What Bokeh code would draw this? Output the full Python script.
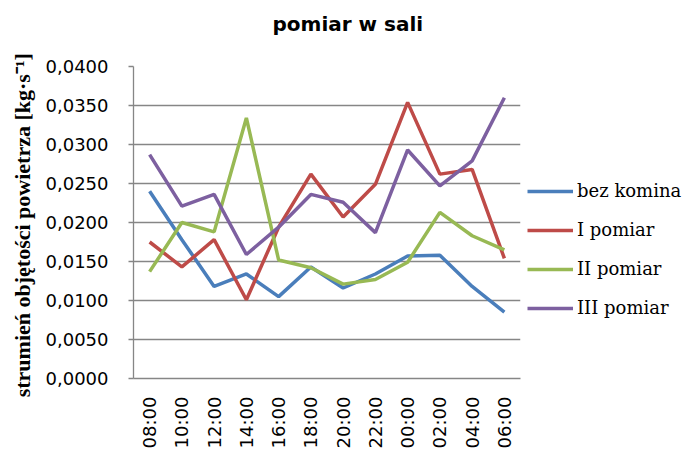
from bokeh.plotting import figure
from bokeh.models import (FactorRange, Range1d, FixedTicker, CustomJSTickFormatter,
                          Legend, LegendItem, Title)
from bokeh.layouts import row
from bokeh.embed import file_html
from bokeh.resources import INLINE
import math

hours = ["08:00", "10:00", "12:00", "14:00", "16:00", "18:00", "20:00", "22:00",
         "00:00", "02:00", "04:00", "06:00"]
bez_komina = [0.0240, 0.0178, 0.0118, 0.0134, 0.0105, 0.0143, 0.0116, 0.0134,
              0.0157, 0.0158, 0.0118, 0.0085]
i_pomiar = [0.0175, 0.0143, 0.0178, 0.0101, 0.0194, 0.0262, 0.0207, 0.0249,
            0.0354, 0.0262, 0.0268, 0.0154]
ii_pomiar = [0.0137, 0.0200, 0.0188, 0.0334, 0.0152, 0.0142, 0.0121, 0.0127,
             0.0149, 0.0213, 0.0183, 0.0165]
iii_pomiar = [0.0287, 0.0221, 0.0236, 0.0159, 0.0194, 0.0236, 0.0226, 0.0187,
              0.0293, 0.0247, 0.0279, 0.0360]
series_names = ["bez komina", "I pomiar", "II pomiar", "III pomiar"]
colors = ["#4a7ebb", "#be4b48", "#98b954", "#7d60a0"]
y_ticks = [0.0, 0.005, 0.010, 0.015, 0.020, 0.025, 0.030, 0.035, 0.040]

H = 451
p = figure(width=522, height=H, x_range=FactorRange(*hours, range_padding=0),
           y_range=Range1d(0, 0.04), output_backend="svg", toolbar_location=None,
           min_border_left=133, min_border_right=2, min_border_top=66,
           min_border_bottom=70)
# trailing empty line lifts the title towards the top edge
p.title = Title(text="pomiar w sali\n", align="left", vertical_align="bottom",
                text_font="DejaVu Sans", text_font_size="20px", text_font_style="bold",
                text_color="#000000", offset=139, standoff=14)

p.outline_line_color = None
p.background_fill_color = "white"
p.border_fill_color = "white"

p.xgrid.grid_line_color = None
p.ygrid.grid_line_color = "#868686"
p.ygrid.grid_line_width = 1.3

p.yaxis.ticker = FixedTicker(ticks=y_ticks)
p.yaxis.formatter = CustomJSTickFormatter(code="return tick.toFixed(4).replace('.', ',');")
p.yaxis.axis_line_color = "#868686"
p.yaxis.axis_line_width = 1.3
p.yaxis.major_tick_line_color = "#868686"
p.yaxis.major_tick_line_width = 1.3
p.yaxis.major_tick_out = 5
p.yaxis.major_tick_in = 0
p.yaxis.minor_tick_line_color = None
p.yaxis.major_label_text_font = "DejaVu Sans"
p.yaxis.major_label_text_font_size = "18px"
p.yaxis.major_label_text_color = "#000000"
p.yaxis.major_label_standoff = 20
p.yaxis.axis_label = "strumień objętości powietrza  [kg·s⁻¹]"
p.yaxis.axis_label_text_font = "Liberation Serif"
p.yaxis.axis_label_text_font_style = "bold"
p.yaxis.axis_label_text_font_size = "22px"
p.yaxis.axis_label_text_color = "#000000"
p.yaxis.axis_label_standoff = 8

p.xaxis.axis_line_color = "#868686"
p.xaxis.axis_line_width = 1.3
p.xaxis.major_tick_line_color = None
p.xaxis.minor_tick_line_color = None
p.xaxis.major_label_orientation = math.pi / 2
p.xaxis.major_label_text_font = "DejaVu Sans"
p.xaxis.major_label_text_font_size = "18px"
p.xaxis.major_label_text_color = "#000000"
p.xaxis.major_label_standoff = 12

for name, vals, c in zip(series_names, [bez_komina, i_pomiar, ii_pomiar, iii_pomiar], colors):
    p.line(hours, vals, line_color=c, line_width=3.5)

# legend panel to the right of the plot area (frames are aligned by the row)
q = figure(width=164, height=H, x_range=Range1d(0, 1), y_range=Range1d(0, 1),
           output_backend="svg", toolbar_location=None, x_axis_location=None,
           y_axis_location=None, min_border=0, outline_line_color=None)
q.grid.grid_line_color = None
items = []
for name, c in zip(series_names, colors):
    r = q.line(x=[2, 3], y=[2, 2], line_color=c, line_width=3.5)
    items.append(LegendItem(label=name, renderers=[r]))
legend = Legend(items=items, location=(5, 60), border_line_color=None,
                background_fill_alpha=0, padding=0, margin=0, spacing=18,
                glyph_width=46, glyph_height=20, label_height=20, label_standoff=4,
                label_text_font="DejaVu Serif", label_text_font_size="18px",
                label_text_color="#000000")
q.add_layout(legend, "center")

layout = row(p, q, spacing=0)
open("out.html", "w").write(file_html(layout, INLINE))
